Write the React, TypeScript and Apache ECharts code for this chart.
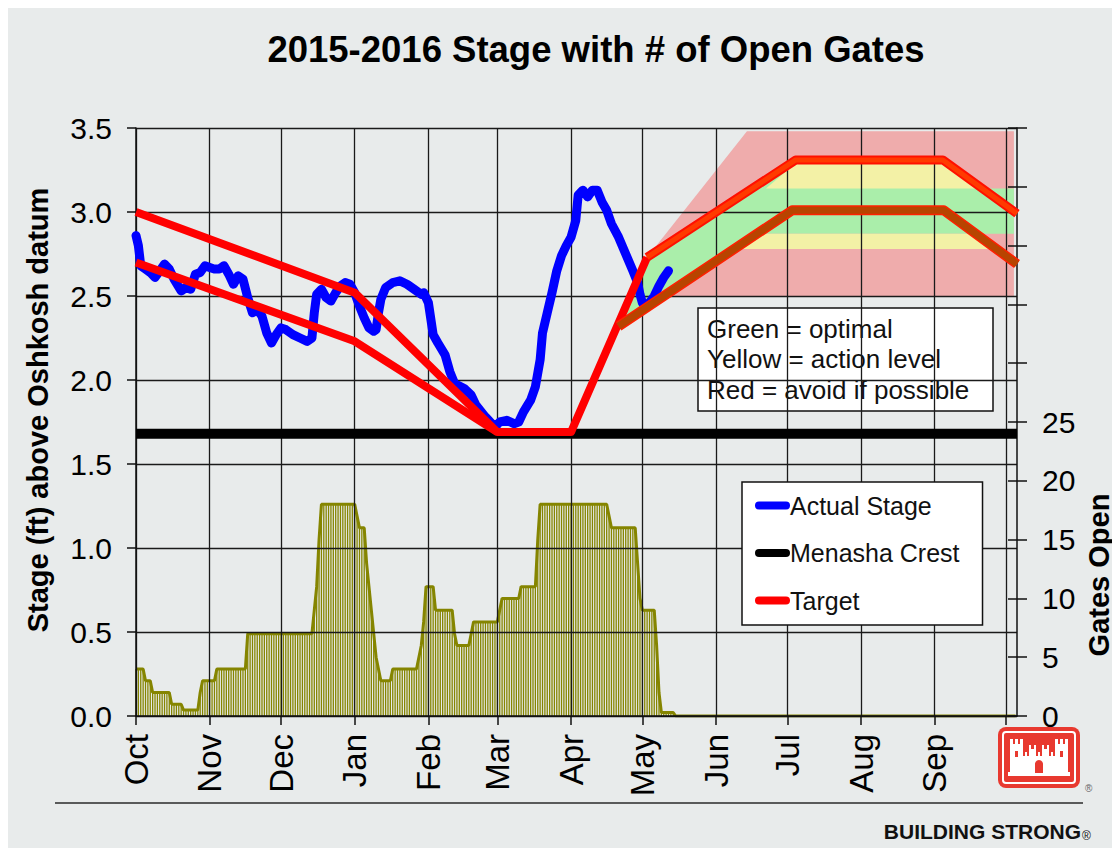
import React, { useEffect, useRef } from 'react';
import * as echarts from 'echarts';

const FONT = '"Liberation Sans", Arial, Helvetica, sans-serif';

// x axis = days since 1 Oct 2015
const monthStarts = [0, 31, 61, 92, 123, 152, 183, 213, 244, 274, 305, 336, 366];
const monthLabelDays = [0, 31, 61, 92, 123, 152, 183, 213, 244, 274, 305, 336];
const monthNames = ['Oct', 'Nov', 'Dec', 'Jan', 'Feb', 'Mar', 'Apr', 'May', 'Jun', 'Jul', 'Aug', 'Sep'];
const xMax = 370.6;

const gateLabelValues = [0, 5, 10, 15, 20, 25];
const gateTickValues = [0, 5, 10, 15, 20, 25, 30, 35, 40, 45, 50];

// Gates open, one value per day
const gatesOct = [4, 4, 4, 4, 3, 3, 3, 2, 2, 2, 2, 2, 2, 2, 2, 1, 1, 1, 1, 1, 0.5, 0.5, 0.5, 0.5, 0.5, 0.5, 0.5, 2, 3, 3, 3];
const gatesNov = [3, 3, 3, 4, 4, 4, 4, 4, 4, 4, 4, 4, 4, 4, 4, 4, 7, 7, 7, 7, 7, 7, 7, 7, 7, 7, 7, 7, 7, 7];
const gatesDec = [7, 7, 7, 7, 7, 7, 7, 7, 7, 7, 7, 7, 7, 7, 9, 11, 15, 18, 18, 18, 18, 18, 18, 18, 18, 18, 18, 18, 18, 18, 18];
const gatesJan = [18, 17, 16, 16, 16, 13, 11, 9, 7, 5, 4, 3, 3, 3, 3, 3, 4, 4, 4, 4, 4, 4, 4, 4, 4, 4, 4, 5, 6, 8, 11];
const gatesFeb = [11, 11, 11, 9, 9, 9, 9, 9, 9, 9, 9, 7, 6, 6, 6, 6, 6, 6, 7, 8, 8, 8, 8, 8, 8, 8, 8, 8, 8];
const gatesMar = [8, 9, 10, 10, 10, 10, 10, 10, 10, 10, 11, 11, 11, 11, 11, 11, 11, 15, 18, 18, 18, 18, 18, 18, 18, 18, 18, 18, 18, 18, 18];
const gatesApr = [18, 18, 18, 18, 18, 18, 18, 18, 18, 18, 18, 18, 18, 18, 18, 18, 17, 16, 16, 16, 16, 16, 16, 16, 16, 16, 16, 16, 13, 10];
const gatesMay = [9, 9, 9, 9, 9, 9, 6, 2, 0.3, 0.3, 0.3, 0.3, 0.3, 0.3, 0, 0, 0, 0, 0, 0, 0, 0, 0, 0, 0, 0, 0, 0, 0, 0, 0];
const gatesJun = [0, 0, 0, 0, 0, 0, 0, 0, 0, 0, 0, 0, 0, 0, 0, 0, 0, 0, 0, 0, 0, 0, 0, 0, 0, 0, 0, 0, 0, 0];
const gatesJul = [0, 0, 0, 0, 0, 0, 0, 0, 0, 0, 0, 0, 0, 0, 0, 0, 0, 0, 0, 0, 0, 0, 0, 0, 0, 0, 0, 0, 0, 0, 0];
const gatesAug = [0, 0, 0, 0, 0, 0, 0, 0, 0, 0, 0, 0, 0, 0, 0, 0, 0, 0, 0, 0, 0, 0, 0, 0, 0, 0, 0, 0, 0, 0, 0];
const gatesSep = [0, 0, 0, 0, 0, 0, 0, 0, 0, 0, 0, 0, 0, 0, 0, 0, 0, 0, 0, 0, 0, 0, 0, 0, 0, 0, 0, 0, 0, 0];
const gatesOctNext = [0, 0, 0, 0, 0];

// Actual stage [day, ft]
const actualStage = [
  [0, 2.86], [1, 2.8], [2, 2.68], [4, 2.66], [6, 2.64], [8, 2.61], [10, 2.65], [12, 2.69], [14, 2.66], [16, 2.6],
  [19, 2.53], [21, 2.55], [23, 2.54], [25, 2.63], [27, 2.64], [29, 2.68], [31, 2.67], [33, 2.66], [35, 2.66], [37, 2.68],
  [39, 2.63], [41, 2.57], [43, 2.62], [45, 2.6], [47, 2.49], [49, 2.4], [51, 2.42], [53, 2.38], [55, 2.28], [57, 2.22],
  [59, 2.27], [61, 2.31], [63, 2.3], [66, 2.27], [69, 2.25], [72, 2.23], [74, 2.25], [75, 2.4], [76, 2.51], [78, 2.54],
  [80, 2.49], [82, 2.47], [84, 2.52], [86, 2.56], [88, 2.58], [90, 2.57], [92, 2.52], [94, 2.44], [96, 2.37], [98, 2.31],
  [100, 2.29], [101, 2.3], [102, 2.4], [103, 2.48], [105, 2.55], [108, 2.58], [111, 2.59], [114, 2.57], [117, 2.54], [120, 2.51],
  [121, 2.52], [123, 2.46], [125, 2.27], [127, 2.22], [130, 2.15], [132, 2.05], [134, 1.98], [138, 1.95], [141, 1.91], [143, 1.85],
  [147, 1.78], [151, 1.72], [153, 1.75], [156, 1.76], [159, 1.74], [161, 1.75], [163, 1.81], [166, 1.88], [168, 1.96], [170, 2.12],
  [171, 2.28], [173, 2.4], [175, 2.52], [177, 2.65], [179, 2.74], [181, 2.8], [183, 2.85], [185, 2.95], [186, 3.1], [188, 3.13],
  [190, 3.09], [192, 3.13], [194, 3.13], [196, 3.06], [198, 3.01], [200, 2.93], [203, 2.85], [206, 2.75], [209, 2.65], [211, 2.58],
  [212, 2.51], [213, 2.46], [214, 2.44], [216, 2.46], [218, 2.5], [220, 2.56], [222, 2.61], [224, 2.65],
];

const crestLevel = 1.68;

// Target curves [day, ft]
const targetUpperWinter = [[0, 3.0], [92, 2.52], [152, 1.69], [183, 1.69], [215, 2.73]];
const targetLowerWinter = [[0, 2.7], [92, 2.23], [152, 1.69]];
const targetUpperSummer = [[215, 2.73], [277.5, 3.31], [339.4, 3.31], [370.6, 2.99]];
const targetLowerSummer = [[203, 2.32], [276, 3.01], [339.8, 3.01], [370.6, 2.69]];

// Zone polygons [day, ft]
const zoneRed = [[203, 2.32], [215, 2.73], [257, 3.48], [369.3, 3.48], [369.3, 2.5], [222, 2.5]];
const zoneGreen = [[203, 2.32], [215, 2.73], [277.5, 3.31], [339.4, 3.31], [356.2, 3.14], [369.3, 3.14], [369.3, 2.87], [261, 2.87]];
const zoneYellowTop = [[265, 3.14], [279, 3.31], [339.4, 3.31], [356.2, 3.14]];
const zoneYellowBottom = [[251.7, 2.78], [261, 2.87], [353.4, 2.87], [362.2, 2.78]];

const zones = [zoneRed, zoneGreen, zoneYellowTop, zoneYellowBottom];
const zoneFills = ['rgba(245,110,110,0.5)', '#aaeeaa', '#f3f1a6', '#f3f1a6'];

const gatesDaily = [
  ...gatesOct, ...gatesNov, ...gatesDec, ...gatesJan, ...gatesFeb, ...gatesMar,
  ...gatesApr, ...gatesMay, ...gatesJun, ...gatesJul, ...gatesAug, ...gatesSep, ...gatesOctNext,
];
const gatesData = gatesDaily.map((g, i) => [i, g]);

const AXIS_LINE = { color: '#111', width: 1.5 };
const GRID_LINE = { color: '#1a1a1a', width: 1.3 };

function buildOption() {
  const legendIcon = 'path://M4,0 L31,0 A4,4 0 0 1 31,8 L4,8 A4,4 0 0 1 4,0 Z';
  return {
    animation: false,
    backgroundColor: '#e8ebeb',
    textStyle: { fontFamily: FONT },
    grid: { left: 128, right: 103, top: 120, bottom: 132, containLabel: false, outerBoundsMode: 'none' },
    xAxis: {
      type: 'value', min: 0, max: xMax, z: 3,
      axisLine: { show: true, onZero: false, lineStyle: AXIS_LINE },
      axisTick: { show: true, customValues: monthStarts, length: 9, lineStyle: AXIS_LINE },
      axisLabel: {
        customValues: monthLabelDays, rotate: 90, fontSize: 33, color: '#000', margin: 18, fontFamily: FONT,
        formatter: (v: number) => monthNames[monthLabelDays.indexOf(v)] ?? '',
      },
      splitLine: { show: true, lineStyle: GRID_LINE },
    },
    yAxis: [
      {
        type: 'value', min: 0, max: 3.5, interval: 0.5, position: 'left', z: 3,
        axisLine: { show: true, lineStyle: AXIS_LINE },
        axisTick: { show: true, length: 9, lineStyle: AXIS_LINE },
        axisLabel: { formatter: (v: number) => v.toFixed(1), fontSize: 30, color: '#000', margin: 24, fontFamily: FONT },
        splitLine: { show: true, lineStyle: GRID_LINE },
      },
      {
        type: 'value', min: 0, max: 50, interval: 5, position: 'right', z: 3,
        axisLine: { show: true, lineStyle: AXIS_LINE },
        axisTick: { show: true, length: 10, lineStyle: AXIS_LINE },
        axisLabel: { customValues: gateLabelValues, fontSize: 30, color: '#000', margin: 25, fontFamily: FONT },
        splitLine: { show: false },
      },
      {
        type: 'value', min: 0, max: 50, interval: 5, position: 'right', z: 3,
        axisLine: { show: false },
        axisTick: { show: true, inside: true, length: 9, customValues: gateTickValues, lineStyle: AXIS_LINE },
        axisLabel: { show: false },
        splitLine: { show: false },
      },
    ],
    legend: {
      data: ['Actual Stage', 'Menasha Crest', 'Target'],
      orient: 'vertical', left: 734, top: 474,
      backgroundColor: '#ffffff', borderColor: '#111', borderWidth: 1.5, borderRadius: 0,
      padding: [11, 23, 12, 13], itemGap: 22.5, itemWidth: 35, itemHeight: 8,
      icon: legendIcon, selectedMode: false, z: 20,
      textStyle: { fontSize: 25, color: '#111', lineHeight: 24, fontFamily: FONT, padding: [0, 0, 0, -5] },
    },
    series: [
      {
        type: 'custom', name: 'zones', coordinateSystem: 'cartesian2d', xAxisIndex: 0, yAxisIndex: 0,
        z: 1, silent: true, clip: true,
        data: zones.map((_, i) => [i]),
        renderItem: (params: any, api: any) => ({
          type: 'polygon',
          shape: { points: zones[params.dataIndex].map((p) => api.coord(p)) },
          style: { fill: zoneFills[params.dataIndex] },
        }),
      },
      {
        type: 'bar', name: 'Gates Open', xAxisIndex: 0, yAxisIndex: 1, data: gatesData,
        barWidth: 1.3, itemStyle: { color: '#858500' }, z: 2, silent: true,
      },
      {
        type: 'line', name: 'Gates outline', xAxisIndex: 0, yAxisIndex: 1, data: gatesData,
        symbol: 'none', lineStyle: { color: '#858500', width: 3 }, z: 2, silent: true,
      },
      {
        type: 'line', name: 'Menasha Crest', yAxisIndex: 0, data: [[0, crestLevel], [xMax, crestLevel]],
        symbol: 'none', lineStyle: { color: '#000', width: 10 }, itemStyle: { color: '#000' }, z: 5,
      },
      {
        type: 'line', name: 'Actual Stage', yAxisIndex: 0, data: actualStage,
        symbol: 'none', lineStyle: { color: '#0000ff', width: 9, cap: 'round', join: 'round' },
        itemStyle: { color: '#0000ff' }, z: 6,
      },
      {
        type: 'line', name: 'Target', yAxisIndex: 0, data: targetUpperWinter,
        symbol: 'none', lineStyle: { color: '#ff0000', width: 8, join: 'round' }, itemStyle: { color: '#ff0000' }, z: 7,
      },
      {
        type: 'line', name: 'Target lower', yAxisIndex: 0, data: targetLowerWinter,
        symbol: 'none', lineStyle: { color: '#ff0000', width: 8, join: 'round' }, z: 7,
      },
      {
        type: 'line', name: 'Target summer edge', yAxisIndex: 0, data: targetUpperSummer,
        symbol: 'none', lineStyle: { color: '#ff1000', width: 9, join: 'round' }, z: 7,
      },
      {
        type: 'line', name: 'Target summer', yAxisIndex: 0, data: targetUpperSummer,
        symbol: 'none', lineStyle: { color: '#ff3a00', width: 5, join: 'round' }, z: 7,
      },
      {
        type: 'line', name: 'Target lower edge', yAxisIndex: 0, data: targetLowerSummer,
        symbol: 'none', lineStyle: { color: '#ff2000', width: 10, join: 'round' }, z: 7,
      },
      {
        type: 'line', name: 'Target lower summer', yAxisIndex: 0, data: targetLowerSummer,
        symbol: 'none', lineStyle: { color: '#b84400', width: 7, join: 'round' }, z: 7,
      },
    ],
    graphic: [
      {
        type: 'text', x: 588, y: 41, z: 50,
        style: { text: '2015-2016 Stage with # of Open Gates', fontSize: 36.5, fontWeight: 'bold', fontFamily: FONT, fill: '#000', align: 'center', verticalAlign: 'middle' },
      },
      {
        type: 'text', x: 30, y: 402, rotation: Math.PI / 2, z: 50,
        style: { text: 'Stage (ft) above Oshkosh datum', fontSize: 29, fontWeight: 'bold', fontFamily: FONT, fill: '#000', align: 'center', verticalAlign: 'middle' },
      },
      {
        type: 'text', x: 1091, y: 567, rotation: Math.PI / 2, z: 50,
        style: { text: 'Gates Open', fontSize: 29, fontWeight: 'bold', fontFamily: FONT, fill: '#000', align: 'center', verticalAlign: 'middle' },
      },
      {
        type: 'group', x: 690, y: 300, z: 50,
        children: [
          { type: 'rect', shape: { x: 0, y: 0, width: 295, height: 103 }, style: { fill: '#fff', stroke: '#111', lineWidth: 1.5 } },
          { type: 'text', x: 9, y: 21, style: { text: 'Green = optimal', fontSize: 26, fontFamily: FONT, fill: '#111', verticalAlign: 'middle' } },
          { type: 'text', x: 9, y: 51, style: { text: 'Yellow = action level', fontSize: 26, fontFamily: FONT, fill: '#111', verticalAlign: 'middle' } },
          { type: 'text', x: 9, y: 82, style: { text: 'Red = avoid if possible', fontSize: 26, fontFamily: FONT, fill: '#111', verticalAlign: 'middle' } },
        ],
      },
      {
        type: 'line', z: 50, shape: { x1: 47, y1: 795, x2: 1075, y2: 795 }, style: { stroke: '#2a2a2a', lineWidth: 1.5 },
      },
      {
        type: 'text', x: 1073, y: 823, z: 50,
        style: { text: 'BUILDING STRONG', fontSize: 21, fontWeight: 'bold', fontFamily: FONT, fill: '#111', align: 'right', verticalAlign: 'middle' },
      },
      {
        type: 'text', x: 1074, y: 828, z: 50,
        style: { text: '®', fontSize: 12, fontFamily: FONT, fill: '#111', align: 'left', verticalAlign: 'middle' },
      },
      {
        type: 'text', x: 1077, y: 780, z: 50,
        style: { text: '®', fontSize: 10, fontFamily: FONT, fill: '#666', align: 'left', verticalAlign: 'middle' },
      },
      {
        type: 'group', x: 990, y: 719, z: 50,
        children: [
          { type: 'rect', shape: { x: 0, y: 0, width: 82, height: 61, r: 8 }, style: { fill: '#e8392f' } },
          { type: 'rect', shape: { x: 5, y: 5, width: 72, height: 51, r: 3 }, style: { fill: 'none', stroke: '#fff', lineWidth: 2 } },
          { type: 'rect', shape: { x: 12, y: 17, width: 13, height: 29 }, style: { fill: '#fff' } },
          { type: 'rect', shape: { x: 12, y: 12, width: 3, height: 6 }, style: { fill: '#fff' } },
          { type: 'rect', shape: { x: 17, y: 12, width: 3, height: 6 }, style: { fill: '#fff' } },
          { type: 'rect', shape: { x: 22, y: 12, width: 3, height: 6 }, style: { fill: '#fff' } },
          { type: 'rect', shape: { x: 57, y: 17, width: 13, height: 29 }, style: { fill: '#fff' } },
          { type: 'rect', shape: { x: 57, y: 12, width: 3, height: 6 }, style: { fill: '#fff' } },
          { type: 'rect', shape: { x: 62, y: 12, width: 3, height: 6 }, style: { fill: '#fff' } },
          { type: 'rect', shape: { x: 67, y: 12, width: 3, height: 6 }, style: { fill: '#fff' } },
          { type: 'rect', shape: { x: 25, y: 29, width: 32, height: 17 }, style: { fill: '#fff' } },
          { type: 'rect', shape: { x: 31, y: 22, width: 7, height: 8 }, style: { fill: '#fff' } },
          { type: 'rect', shape: { x: 44, y: 22, width: 7, height: 8 }, style: { fill: '#fff' } },
          { type: 'rect', shape: { x: 31, y: 18, width: 2, height: 5 }, style: { fill: '#fff' } },
          { type: 'rect', shape: { x: 36, y: 18, width: 2, height: 5 }, style: { fill: '#fff' } },
          { type: 'rect', shape: { x: 44, y: 18, width: 2, height: 5 }, style: { fill: '#fff' } },
          { type: 'rect', shape: { x: 49, y: 18, width: 2, height: 5 }, style: { fill: '#fff' } },
          { type: 'rect', shape: { x: 27, y: 25, width: 2, height: 5 }, style: { fill: '#fff' } },
          { type: 'rect', shape: { x: 40, y: 25, width: 2, height: 5 }, style: { fill: '#fff' } },
          { type: 'rect', shape: { x: 53, y: 25, width: 2, height: 5 }, style: { fill: '#fff' } },
          { type: 'rect', shape: { x: 10, y: 45, width: 62, height: 4 }, style: { fill: '#fff' } },
          { type: 'rect', shape: { x: 17, y: 24, width: 3, height: 6 }, style: { fill: '#e8392f' } },
          { type: 'rect', shape: { x: 62, y: 24, width: 3, height: 6 }, style: { fill: '#e8392f' } },
          { type: 'rect', shape: { x: 37, y: 37, width: 8, height: 9 }, style: { fill: '#e8392f' } },
          { type: 'circle', shape: { cx: 41, cy: 37, r: 4 }, style: { fill: '#e8392f' } },
        ],
      },
    ],
  };
}

export default function App() {
  const ref = useRef<HTMLDivElement>(null);
  useEffect(() => {
    if (!ref.current) return;
    const chart = echarts.init(ref.current, undefined, { renderer: 'svg' });
    chart.setOption(buildOption() as any);
    return () => chart.dispose();
  }, []);
  return <div ref={ref} style={{ width: 1112, height: 840 }} />;
}
